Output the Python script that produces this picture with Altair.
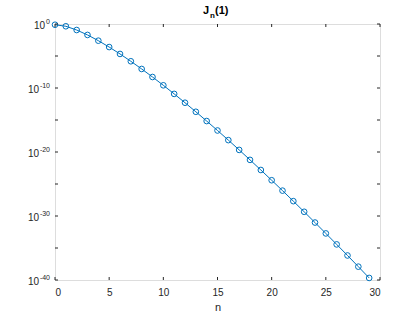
import altair as alt
import pandas as pd

# Bessel J_n(1), n = 0..29
n_values = list(range(30))
jn_values = [7.652e-1, 4.401e-1, 1.149e-1, 1.956e-2, 2.477e-3, 2.498e-4, 2.094e-5,
             1.502e-6, 9.422e-8, 5.249e-9, 2.631e-10, 1.198e-11, 5.000e-13, 1.926e-14,
             6.885e-16, 2.297e-17, 7.183e-19, 2.115e-20, 5.880e-22, 1.549e-23,
             3.873e-25, 9.219e-27, 2.095e-28, 4.553e-30, 9.486e-32, 1.899e-33,
             3.656e-35, 6.778e-37, 1.212e-38, 2.094e-40]
x_ticks = [0, 5, 10, 15, 20, 25, 30]
y_ticks = [1e0, 1e-5, 1e-10, 1e-15, 1e-20, 1e-25, 1e-30, 1e-35, 1e-40]
y_label_values = [1e0, 1e-10, 1e-20, 1e-30, 1e-40]
y_label_exps = ["0", "-10", "-20", "-30", "-40"]

W, H = 325, 256
BLUE = "#0072BD"
AX = "#262626"
FONT = "Liberation Sans"

df = pd.DataFrame({"n": n_values, "J": jn_values})
xt = pd.DataFrame({"x": x_ticks})
yt = pd.DataFrame({"y": y_ticks})
yl = pd.DataFrame({"y": y_label_values, "e": y_label_exps})

xs = alt.Scale(domain=[0, 30], nice=False, zero=False)
ys = alt.Scale(type="log", domain=[1e-40, 1], nice=False)

xenc = alt.X("n:Q", scale=xs, axis=alt.Axis(values=x_ticks, tickSize=0, domain=False,
             grid=False, labelFont=FONT, labelFontSize=10, labelColor=AX, labelPadding=7,
             title="n", titleFont=FONT, titleFontSize=11, titleFontWeight="normal",
             titleColor=AX, titlePadding=4))
yenc = alt.Y("J:Q", scale=ys, axis=None)

line = alt.Chart(df).mark_line(color=BLUE, strokeWidth=1, clip=True).encode(x=xenc, y=yenc)
pts = alt.Chart(df).mark_point(shape="circle", filled=False, color=BLUE, size=32,
                               strokeWidth=1, opacity=1).encode(
    x=alt.X("n:Q", scale=xs), y=alt.Y("J:Q", scale=ys))

# inward tick marks on all four sides
xb = alt.Chart(xt).mark_rule(color=AX, strokeWidth=1).encode(
    x=alt.X("x:Q", scale=xs), y=alt.value(H), y2=alt.value(H - 3))
xtop = alt.Chart(xt).mark_rule(color=AX, strokeWidth=1).encode(
    x=alt.X("x:Q", scale=xs), y=alt.value(0), y2=alt.value(3))
yleft = alt.Chart(yt).mark_rule(color=AX, strokeWidth=1).encode(
    y=alt.Y("y:Q", scale=ys), x=alt.value(0), x2=alt.value(3))
yright = alt.Chart(yt).mark_rule(color=AX, strokeWidth=1).encode(
    y=alt.Y("y:Q", scale=ys), x=alt.value(W), x2=alt.value(W - 3))

# y tick labels: "10" with superscript exponent
ten0 = alt.Chart(yl).transform_filter("datum.e == '0'").mark_text(
    text="10", align="right", baseline="middle", dy=2,
    font=FONT, fontSize=10, color=AX).encode(
    y=alt.Y("y:Q", scale=ys), x=alt.value(-10))
tenN = alt.Chart(yl).transform_filter("datum.e != '0'").mark_text(
    text="10", align="right", baseline="middle", dy=2,
    font=FONT, fontSize=10, color=AX).encode(
    y=alt.Y("y:Q", scale=ys), x=alt.value(-16))
sup = alt.Chart(yl).mark_text(align="right", baseline="alphabetic", dy=0,
                              font=FONT, fontSize=7, color=AX).encode(
    y=alt.Y("y:Q", scale=ys), x=alt.value(-5), text="e:N")

one = alt.Data(values=[{"a": 1}])
tJ = alt.Chart(one).mark_text(text="J", align="right", baseline="alphabetic",
                              font=FONT, fontSize=11, fontWeight="bold", color="black").encode(
    x=alt.value(154), y=alt.value(-10))
tn = alt.Chart(one).mark_text(text="n", align="left", baseline="alphabetic",
                              font=FONT, fontSize=8, fontWeight="bold", color="black").encode(
    x=alt.value(155), y=alt.value(-6))
t1 = alt.Chart(one).mark_text(text="(1)", align="left", baseline="alphabetic",
                              font=FONT, fontSize=11, fontWeight="bold", color="black").encode(
    x=alt.value(160), y=alt.value(-10))

chart = alt.layer(line, pts, xb, xtop, yleft, yright, ten0, tenN, sup, tJ, tn, t1).properties(
    width=W, height=H,
    autosize=alt.AutoSizeParams(type="none"),
    padding={"left": 55, "top": 24, "right": 40, "bottom": 35},
).configure_view(stroke=AX, strokeWidth=1).configure(background="white")

chart.save("out.html", embed_options={"renderer": "svg", "actions": False})
